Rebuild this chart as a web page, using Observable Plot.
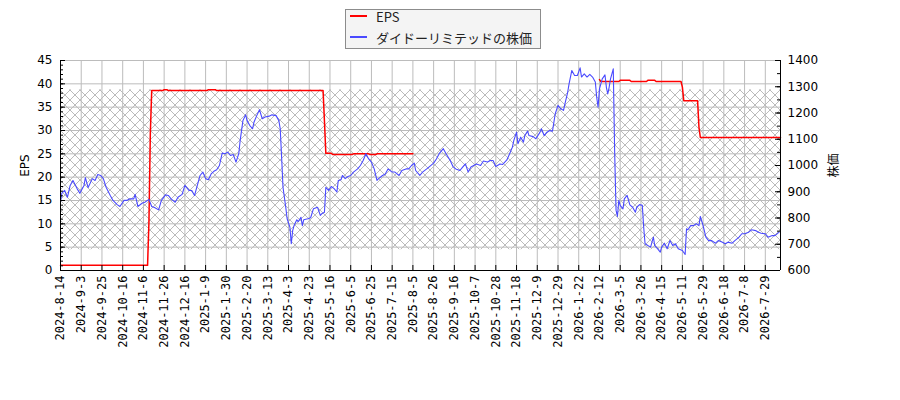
<!DOCTYPE html>
<html><head><meta charset="utf-8">
<script src="https://cdn.jsdelivr.net/npm/d3@7"></script>
<script src="https://cdn.jsdelivr.net/npm/@observablehq/plot@0.6"></script>
<style>
body{margin:0;background:#fff;}
#wrap{position:relative;width:900px;height:400px;}
#legend{position:absolute;left:345px;top:9px;width:194px;height:38px;border:1px solid #8c8c8c;background:#f4f4f4;font-family:"Noto Sans CJK JP","DejaVu Sans",sans-serif;font-size:13px;color:#222;z-index:2;}
.row{position:absolute;left:0;height:20px;display:flex;align-items:center;white-space:nowrap;}
.sw{display:inline-block;width:17px;height:1.6px;margin-left:4px;margin-right:9px;}
#chart{position:absolute;left:0;top:0;}
</style></head><body>
<div id="wrap">
<div id="chart"></div>
<div id="legend">
<div class="row" style="top:-4px"><span class="sw" style="background:#ff0000"></span>EPS</div>
<div class="row" style="top:17px"><span class="sw" style="background:#4a4aff"></span>ダイドーリミテッドの株価</div>
</div>
</div>
<script>
// ---- data ----
const tickDays = [0,15,30,45,60,75,90,105,120,135,150,165,180,195,210,225,240,255,270,285,300,315,330,345,360,375,390,405,420,435,450,465,480,495,510];
const tickLabels = ["2024-8-14","2024-9-3","2024-9-25","2024-10-16","2024-11-6","2024-11-26","2024-12-16","2025-1-9","2025-1-30","2025-2-20","2025-3-13","2025-4-3","2025-4-23","2025-5-16","2025-6-5","2025-6-25","2025-7-15","2025-8-5","2025-8-26","2025-9-16","2025-10-7","2025-10-28","2025-11-18","2025-12-9","2025-12-29","2026-1-22","2026-2-12","2026-3-5","2026-3-26","2026-4-15","2026-5-11","2026-5-29","2026-6-18","2026-7-8","2026-7-29"];
const dayEnd = 521;

const epsDay = [0,63,64,65,66,74,75,77,78,106,107,112,113,190,191,192,196,197,211,212,223,224,228,229,255,NaN,390,391,404,405,412,413,424,425,430,431,449,450,451,461,462,463,521];
const epsVal = [1.1,1.1,10.4,29.3,38.55,38.55,38.75,38.75,38.55,38.55,38.75,38.75,38.55,38.55,32,25.1,25.1,24.85,24.85,25.0,25.0,24.85,24.85,25.0,25.0,NaN,40.9,40.5,40.5,40.75,40.75,40.5,40.5,40.75,40.75,40.5,40.5,39.3,36.4,36.4,30.7,28.5,28.5];

const priceDay = [0,1,3,5,7,9,12,14,17,18,20,23,25,27,29,31,33,36,38,41,43,46,48,50,53,54,56,59,61,64,66,68,71,73,76,78,80,83,85,88,90,93,95,97,99,101,103,105,107,
109,111,113,115,117,119,121,123,125,127,129,130,132,134,135,137,139,140,142,144,146,148,151,153,156,158,159,160,161,163,164,166,167,168,169,171,172,174,175,176,179,181,183,186,188,189,191,192,194,196,198,200,201,203,204,206,208,
210,212,215,217,219,221,223,225,227,229,230,233,235,237,240,242,245,247,250,252,254,256,257,260,262,265,267,270,272,274,277,279,282,284,286,289,291,293,295,297,299,301,304,306,309,311,
313,315,318,320,323,325,327,328,330,331,333,335,336,338,339,342,344,347,348,350,352,354,356,358,360,362,364,365,367,368,370,372,374,376,377,379,381,383,385,387,388,389,390,392,394,395,396,397,398,400,401,402,403,404,405,407,408,410,412,
414,416,417,419,421,422,423,425,427,429,430,432,434,435,437,439,441,443,445,447,450,452,453,454,456,458,460,462,463,465,467,469,471,474,476,479,481,483,486,488,491,493,495,498,500,503,505,507,510,512,515,517,520];
const priceVal = [860,895,905,879,924,943,912,894,924,954,916,950,943,966,962,950,917,886,867,851,844,867,867,873,873,890,844,856,860,871,844,840,831,867,888,886,873,860,879,890,924,905,905,886,924,962,975,950,946,
968,978,984,1000,1047,1045,1051,1038,1042,1013,1045,1095,1171,1193,1171,1152,1140,1165,1190,1212,1178,1185,1188,1193,1190,1171,1140,1032,917,841,797,765,702,752,771,793,786,803,771,793,797,801,835,841,810,816,822,917,905,920,912,899,943,946,962,950,958,
962,975,987,1000,1019,1045,1025,1013,987,943,949,962,968,987,975,975,962,981,987,987,1000,1009,981,962,975,987,996,1009,1025,1045,1064,1045,1019,996,987,981,994,1006,975,994,1000,1006,1000,1017,1013,1019,
1019,996,1006,1004,1021,1045,1070,1095,1127,1083,1108,1089,1114,1131,1114,1110,1102,1127,1140,1114,1127,1133,1131,1197,1229,1216,1210,1235,1279,1311,1362,1343,1343,1372,1337,1349,1337,1347,1337,1318,1260,1222,1292,1330,1345,1298,1273,1298,1330,1368,1050,830,806,867,848,835,873,886,850,
841,822,841,851,848,765,702,695,689,727,695,683,670,689,704,683,714,695,702,683,676,661,759,755,771,771,778,771,806,771,727,714,714,704,714,708,702,708,704,714,727,740,740,746,755,752,746,742,740,727,733,733,746];

const epsTicks = [0,5,10,15,20,25,30,35,40,45];
const priceTicks = [600,700,800,900,1000,1100,1200,1300,1400];
const epsDomain = [0, 45];
const priceDomain = [600, 1400];
const hatchBand = [4.45, 38.7];

// ---- build ----
const toY = p => (p - priceDomain[0]) / (priceDomain[1] - priceDomain[0]) * epsDomain[1];
const fromY = v => String(Math.round(priceDomain[0] + v / epsDomain[1] * (priceDomain[1] - priceDomain[0])));
const priceData = priceDay.map((d, i) => ({x: d, y: toY(priceVal[i])}));
const epsData = epsDay.map((d, i) => ({x: d, y: epsVal[i]}));
const labelMap = new Map(tickDays.map((d, i) => [d, tickLabels[i]]));
const epsMinor = d3.range(epsDomain[0], epsDomain[1] + 1, 1);
const priceMinor = d3.range(priceDomain[0], priceDomain[1] + 1, 50).map(toY);

const plot = Plot.plot({
  width: 900, height: 400,
  marginLeft: 60, marginRight: 120, marginTop: 60, marginBottom: 130,
  style: {fontFamily: "DejaVu Sans, 'Noto Sans CJK JP', sans-serif", fontSize: "12px", color: "#000", background: "transparent"},
  x: {domain: [0, dayEnd], axis: null},
  y: {domain: epsDomain, axis: null},
  marks: [
    Plot.rect([hatchBand], {x1: () => 0, x2: () => dayEnd, y1: d => d[0], y2: d => d[1], fill: "url(#hatch)", className: "hatchband"}),
    Plot.gridX(tickDays, {stroke: "#bcbcbc", strokeOpacity: 1, strokeWidth: 1}),
    Plot.gridY(epsTicks, {stroke: "#bcbcbc", strokeOpacity: 1, strokeWidth: 1}),
    Plot.line(epsData, {x: "x", y: "y", stroke: "#ff0000", strokeWidth: 1.5}),
    Plot.line(priceData, {x: "x", y: "y", stroke: "#4a4aff", strokeWidth: 1.1}),
    Plot.ruleY([0], {stroke: "#000", strokeWidth: 1}),
    Plot.ruleX([0, dayEnd], {stroke: "#000", strokeWidth: 1}),
    Plot.ruleX(tickDays, {insetTop: 205, stroke: "#000"}),
    Plot.ruleY(epsTicks, {insetRight: 715, stroke: "#000"}),
    Plot.ruleY(epsMinor, {insetRight: 717, stroke: "#000"}),
    Plot.ruleY(priceTicks.map(toY), {insetLeft: 715, stroke: "#000"}),
    Plot.ruleY(priceMinor, {insetLeft: 717, stroke: "#000"}),
    Plot.axisX(tickDays, {tickFormat: d => labelMap.get(d), tickRotate: -90, tickSize: 0, tickPadding: 5, label: null, fontFamily: "DejaVu Sans Mono", fontSize: 12}),
    Plot.axisY(epsTicks, {anchor: "left", tickSize: 0, tickPadding: 8, label: "EPS", labelAnchor: "center", labelArrow: "none", labelOffset: 40, fontSize: 12}),
    Plot.axisY(priceTicks.map(toY), {anchor: "right", tickFormat: fromY, tickSize: 0, tickPadding: 7, label: "株価", labelAnchor: "center", labelArrow: "none", labelOffset: 57, fontSize: 12})
  ]
});

const svg = d3.select(plot);
const defs = svg.insert("defs", ":first-child");
const s = 10;
const pat = defs.append("pattern").attr("id", "hatch").attr("patternUnits", "userSpaceOnUse")
  .attr("width", s).attr("height", s);
pat.append("path").attr("d", `M0,0L${s},${s}M${s},0L0,${s}`)
  .attr("stroke", "#aaaaaa").attr("stroke-width", 0.8).attr("fill", "none");
svg.selectAll(".hatchband rect").attr("fill", "url(#hatch)");
document.getElementById("chart").appendChild(plot);
</script>
</body></html>
